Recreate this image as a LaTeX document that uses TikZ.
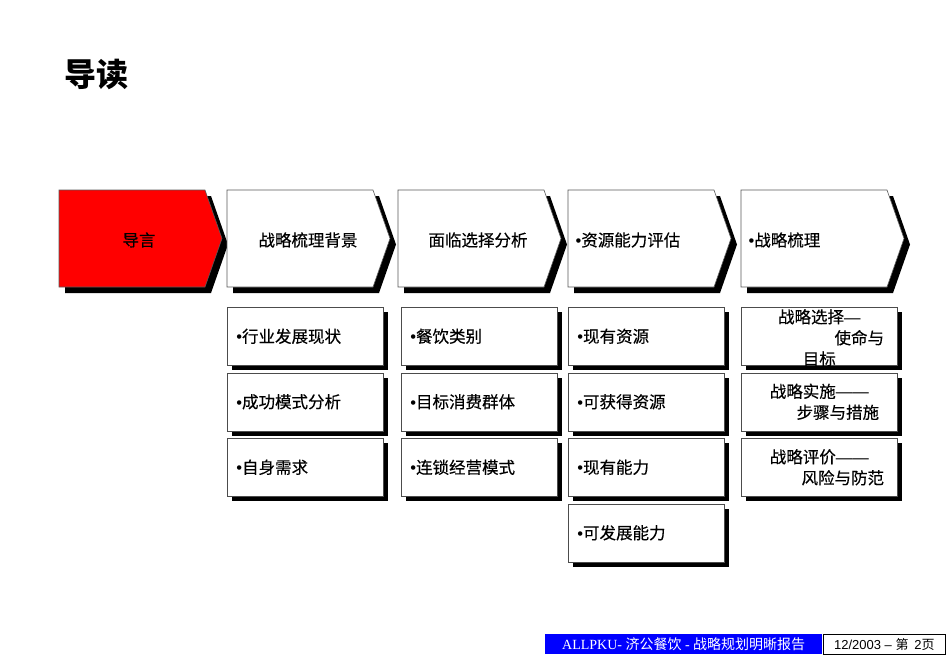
\documentclass[tikz,border=0pt]{standalone}
\usepackage{fontspec}
\setmainfont{Noto Sans CJK SC}
\newfontfamily\heavy{Noto Sans CJK SC}[FakeBold=0.3]
\newfontfamily\serifpart{Liberation Serif}
\newfontfamily\sanspart{Liberation Sans}
\newcommand{\itemdot}{{\sanspart •}}
\newcommand{\longdash}{{\sanspart —}}
\usetikzlibrary{shadows}

\tikzset{
  stage/.style={font=\heavy\fontsize{16.5}{20}\selectfont},
  itembox/.style={draw=gray!60!black, fill=white, line width=0.6pt,
    minimum width=156pt, minimum height=58pt, text width=138pt, inner xsep=9pt,
    align=left, anchor=north west, font=\heavy\fontsize{16.5}{21}\selectfont,
    drop shadow={shadow xshift=5pt, shadow yshift=-5pt, fill=black, opacity=1}},
  goaltext/.style={align=center, font=\heavy\fontsize{16.5}{21}\selectfont, inner sep=0pt},
}

\begin{document}
\begin{tikzpicture}[x=1pt,y=-1pt]
\useasboundingbox (0,0) rectangle (950,658);
\node[anchor=west,font=\fontsize{32}{32}\selectfont\bfseries] (title) at (61,74) {导读};
% chevrons
\foreach \x/\c in {59/red,227/white,398/white,568/white,741/white}{
  \fill[black] (\x+6,196) -- ++(146,0) -- ++(17,48.5) -- ++(-17,48.5) -- ++(-146,0) -- cycle;
  \filldraw[fill=\c,draw=gray!70!black,line width=0.6pt] (\x,190) -- ++(146,0) -- ++(17,48.5) -- ++(-17,48.5) -- ++(-146,0) -- cycle;
}
\node[stage] (lead) at (139,240) {导言};
\node[stage] (background) at (308,240) {战略梳理背景};
\node[stage] (choice) at (478,240) {面临选择分析};
\node[stage,anchor=west] (resource) at (572,240) {\itemdot{}资源能力评估};
\node[stage,anchor=west] (strategy) at (745,240) {\itemdot{}战略梳理};
% item boxes
\foreach \t [count=\i] in {行业发展现状,成功模式分析,自身需求}
  \node[itembox] (bg\i) at (227,{307+65.5*(\i-1)}) {\itemdot{}\t};
\foreach \t [count=\i] in {餐饮类别,目标消费群体,连锁经营模式}
  \node[itembox] (ch\i) at (401,{307+65.5*(\i-1)}) {\itemdot{}\t};
\foreach \t [count=\i] in {现有资源,可获得资源,现有能力,可发展能力}
  \node[itembox] (rs\i) at (568,{307+65.5*(\i-1)}) {\itemdot{}\t};
\foreach \i in {1,2,3}
  \node[itembox] (sg\i) at (741,{307+65.5*(\i-1)}) {};
\node[goaltext] (sg1text) at ([yshift=-1.5pt]sg1.center) {战略选择\longdash{}\\\hspace*{80pt}使命与\\目标};
\node[goaltext] (sg2text) at (sg2.center) {战略实施\longdash{}\longdash{}\\\hspace*{37pt}步骤与措施};
\node[goaltext] (sg3text) at (sg3.center) {战略评价\longdash{}\longdash{}\\\hspace*{47pt}风险与防范};
% footer
\node[fill=blue,text=white,minimum width=277pt,minimum height=20pt,inner sep=0pt,anchor=north west,font=\fontsize{14}{14}\selectfont] (footer) at (545,634) {{\serifpart ALLPKU- }济公餐饮{\serifpart\ - }战略规划明晰报告};
\node[draw=black,line width=0.6pt,fill=white,minimum width=122pt,minimum height=20pt,inner sep=0pt,anchor=north west,font=\fontsize{13}{13}\selectfont] (page) at (823,634) {{\sanspart 12/2003 – }第\ \ {\sanspart 2}页};
\end{tikzpicture}
\end{document}
